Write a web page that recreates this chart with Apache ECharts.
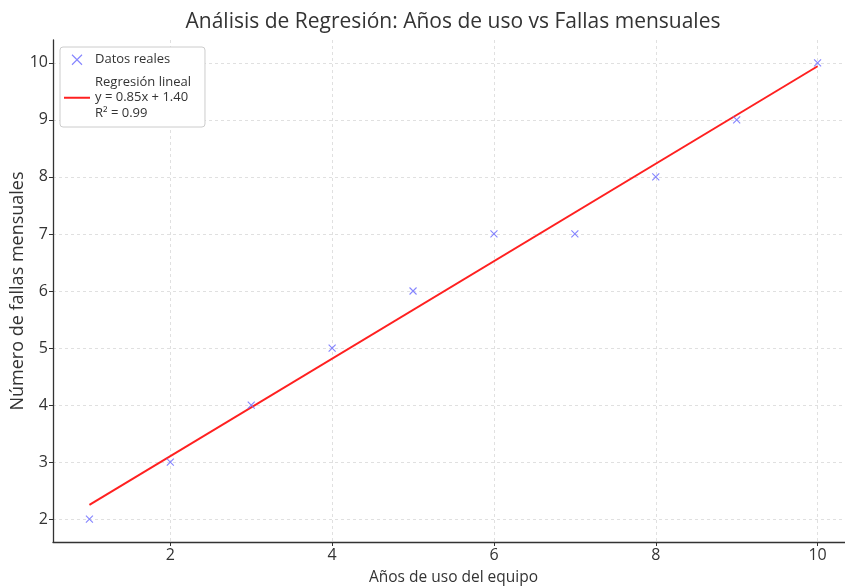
<!DOCTYPE html>
<html><head><meta charset="utf-8">
<script src="https://cdn.jsdelivr.net/npm/echarts@6/dist/echarts.min.js"></script>
<style>html,body{margin:0;padding:0;background:#fff}#c{width:845px;height:586px}</style>
</head><body><div id="c"></div>
<script>
const years = [1, 2, 3, 4, 5, 6, 7, 8, 9, 10];
const failures = [2, 3, 4, 5, 6, 7, 7, 8, 9, 10];
const regLine = [[1, 2.25], [10, 9.94]];
const xTicks = [2, 4, 6, 8, 10];
const yTicks = [2, 3, 4, 5, 6, 7, 8, 9, 10];
const titleText = 'Análisis de Regresión: Años de uso vs Fallas mensuales';
const xName = 'Años de uso del equipo';
const yName = 'Número de fallas mensuales';
const scatterName = 'Datos reales';
const lineName = 'Regresión lineal\ny = 0.85x + 1.40\nR² = 0.99';

const FONT = 'Open Sans';
const chart = echarts.init(document.getElementById('c'));
const splitLine = {show: true, lineStyle: {color: '#d9d9d9', type: [3, 3], width: 0.8}};
chart.setOption({
  animation: false,
  textStyle: {fontFamily: FONT},
  title: {text: titleText, left: 448, top: 7, textAlign: 'center',
    textStyle: {fontFamily: FONT, fontSize: 21, fontWeight: 'normal', color: '#333'}},
  grid: {left: 53, top: 40, width: 801, bottom: 44, containLabel: false, outerBoundsMode: 'none'},
  graphic: [{
    type: 'text', x: 18, y: 291, rotation: Math.PI / 2, z: 10,
    style: {text: yName, fontFamily: FONT, fontSize: 18, fill: '#333',
      align: 'center', verticalAlign: 'middle'}
  }],
  legend: {
    left: 60, top: 47, orient: 'vertical', itemGap: 7, padding: [5, 14, 6, 4],
    backgroundColor: '#fff', borderColor: '#ccc', borderWidth: 1, borderRadius: 3,
    itemWidth: 26, itemHeight: 10,
    textStyle: {fontFamily: FONT, fontSize: 13, color: '#333', lineHeight: 15.5},
    data: [
      {name: scatterName, icon: 'path://M0,0L10,10M10,0L0,10',
        itemStyle: {color: 'none', borderColor: '#7070ff', borderWidth: 1.1}},
      {name: lineName, icon: 'path://M0,4H26V6H0Z', itemStyle: {color: '#ff2020'}}
    ]
  },
  xAxis: {
    type: 'value', min: 0.55, max: 10.45,
    name: xName, nameLocation: 'middle', nameGap: 28,
    nameTextStyle: {fontFamily: FONT, fontSize: 15.5, color: '#333'},
    axisLine: {show: true, onZero: false, lineStyle: {color: '#333', width: 1.3}},
    axisTick: {show: true, customValues: xTicks, length: 4, lineStyle: {color: '#333'}},
    axisLabel: {customValues: xTicks, fontFamily: FONT, fontSize: 16, color: '#333', margin: 5},
    splitLine: splitLine
  },
  yAxis: {
    type: 'value', min: 1.6, max: 10.4,
    axisLine: {show: true, onZero: false, lineStyle: {color: '#333', width: 1.3}},
    axisTick: {show: true, customValues: yTicks, length: 4, lineStyle: {color: '#333'}},
    axisLabel: {customValues: yTicks, fontFamily: FONT, fontSize: 16, color: '#333', margin: 5},
    splitLine: splitLine
  },
  series: [
    {name: scatterName, type: 'scatter',
      data: years.map((x, i) => [x, failures[i]]),
      symbol: 'path://M0,0L10,10M10,0L0,10', symbolSize: 7,
      itemStyle: {color: 'none', borderColor: '#7070ff', borderWidth: 1.1, opacity: 0.85},
      z: 3},
    {name: lineName, type: 'line', data: regLine, symbol: 'none',
      lineStyle: {color: '#ff2020', width: 2}, itemStyle: {color: '#ff2020'}, z: 2}
  ]
});
</script></body></html>
